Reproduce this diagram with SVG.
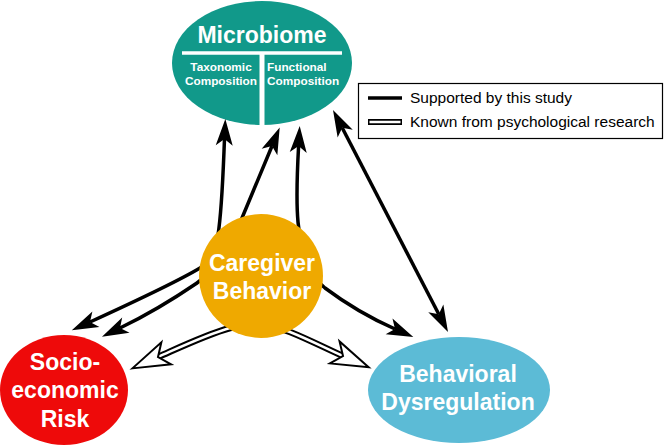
<svg xmlns="http://www.w3.org/2000/svg" width="666" height="448" viewBox="0 0 666 448">
<style>
.lbl{font-family:"Liberation Sans",Arial,sans-serif;font-weight:bold;fill:#fff;text-anchor:middle}
.big{font-size:23px}
.sm{font-size:11.8px}
.leg{font-family:"Liberation Sans",Arial,sans-serif;font-size:15.5px;fill:#000}
.solid{fill:none;stroke:#000;stroke-width:3.5;marker-start:url(#ah);marker-end:url(#ah)}
.hol-o{fill:none;stroke:#000;stroke-width:6.5}
.hol-i{fill:none;stroke:#fff;stroke-width:2.5}
.hol-m{fill:none;stroke:none;marker-start:url(#oh);marker-end:url(#oh)}
</style>
<defs>
<marker id="ah" viewBox="-10 -12 34 24" markerWidth="34" markerHeight="24" refX="0" refY="0" orient="auto-start-reverse" markerUnits="userSpaceOnUse">
<path d="M20,0 L-6.5,-8.5 L0,0 L-6.5,8.5 Z" fill="#000"/>
</marker>
<marker id="oh" viewBox="-14 -16 48 32" markerWidth="48" markerHeight="32" refX="0" refY="0" orient="auto-start-reverse" markerUnits="userSpaceOnUse">
<path d="M28,0 L-9,-12 L0,0 L-9,12 Z" fill="#fff" stroke="#000" stroke-width="2" stroke-linejoin="miter"/>
</marker>
<path id="hp" d="M158,357 C185,345 208,334 230,328 C252,322 272,325 290,332 C310,340 327,349 343,356"/>
</defs>

<g id="microbiome">
<ellipse cx="262" cy="63" rx="90" ry="62" fill="#11998a"/>
<line x1="182" y1="53" x2="342" y2="53" stroke="#fff" stroke-width="3.5"/>
<line x1="262" y1="53" x2="262" y2="126" stroke="#fff" stroke-width="5"/>
<text class="lbl big" x="262" y="43">Microbiome</text>
<text class="lbl sm" x="221" y="71">Taxonomic</text>
<text class="lbl sm" x="221" y="85">Composition</text>
<text class="lbl sm" x="267" y="71" style="text-anchor:start">Functional</text>
<text class="lbl sm" x="267" y="85" style="text-anchor:start">Composition</text>
</g>

<g id="ses">
<ellipse cx="64" cy="390" rx="64" ry="55" fill="#ee0a0a"/>
<text class="lbl big" x="65" y="370">Socio-</text>
<text class="lbl big" x="65" y="398">economic</text>
<text class="lbl big" x="65" y="427">Risk</text>
</g>

<g id="bd">
<ellipse cx="459" cy="390" rx="91" ry="53" fill="#5cbbd6"/>
<text class="lbl big" x="458" y="382">Behavioral</text>
<text class="lbl big" x="458" y="410">Dysregulation</text>
</g>

<g id="connectors">
<path class="solid" d="M224.5,139 C223,175 222,210 218,235 C214,252 210,262 200,268 C175,283 125,306 90,322"/>
<path class="solid" d="M272,146 L242,218 C234,238 218,268 197,283 C175,298 145,316 120,328"/>
<path class="solid" d="M298.6,146 C297,175 296,200 298,222 C301,252 310,276 325,288 C345,303 370,318 395,329"/>
<path class="solid" d="M342.2,127.8 L438.8,314.2"/>
<use href="#hp" class="hol-o"/>
<use href="#hp" class="hol-i"/>
<use href="#hp" class="hol-m"/>
</g>

<g id="caregiver">
<circle cx="261" cy="276" r="62" fill="#efa900"/>
<text class="lbl big" x="262" y="271">Caregiver</text>
<text class="lbl big" x="262" y="299">Behavior</text>
</g>

<g id="legend">
<rect x="358.5" y="83.5" width="304" height="55" fill="#fff" stroke="#000" stroke-width="1.2"/>
<line x1="368" y1="98" x2="402" y2="98" stroke="#000" stroke-width="3.5"/>
<line x1="368" y1="122" x2="402" y2="122" stroke="#000" stroke-width="6"/>
<line x1="369.5" y1="122" x2="400.5" y2="122" stroke="#fff" stroke-width="2.5"/>
<text class="leg" x="410" y="103">Supported by this study</text>
<text class="leg" x="410" y="127">Known from psychological research</text>
</g>
</svg>
